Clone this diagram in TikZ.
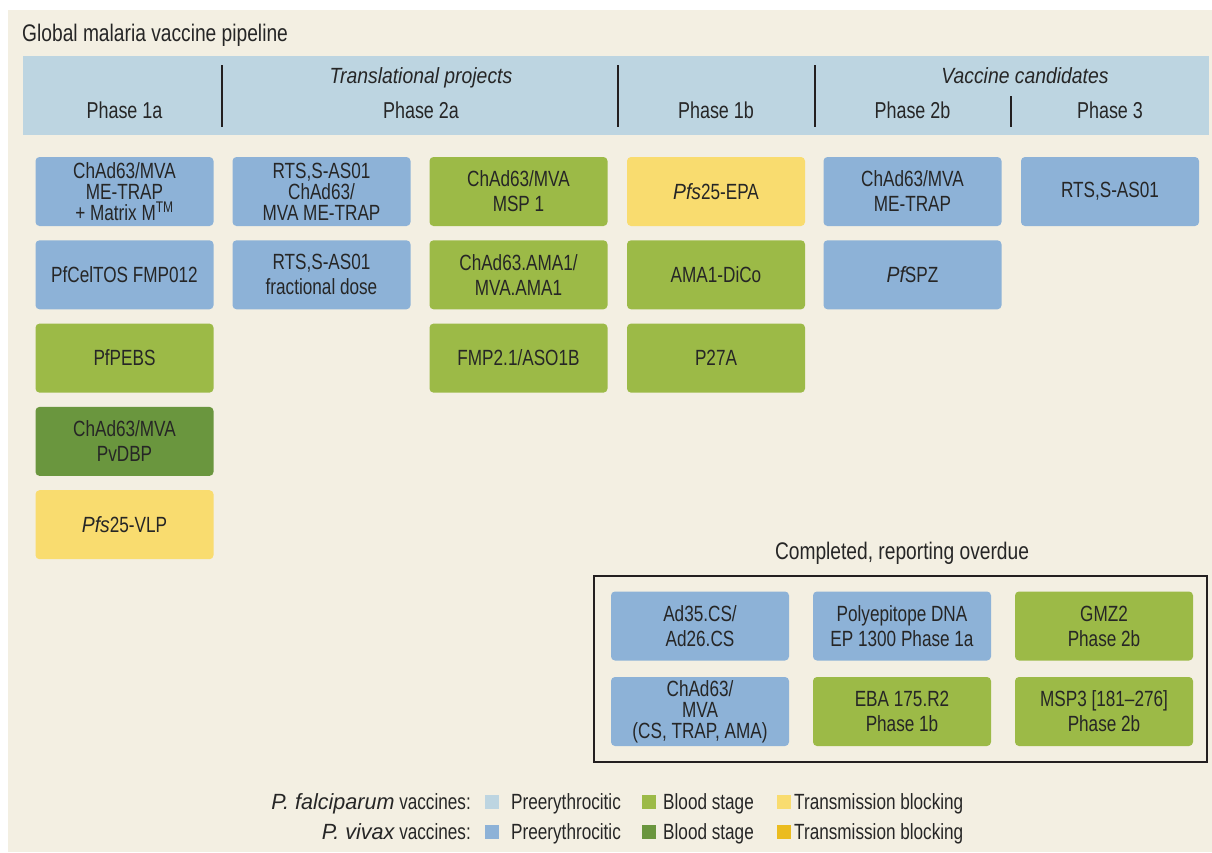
\documentclass[tikz,border=0pt]{standalone}
\usepackage{fontspec}
\setmainfont[FakeStretch=0.78]{Liberation Sans}
\newfontface\ttlf[FakeStretch=0.8]{Liberation Sans}
\newfontface\itf[FakeStretch=0.88]{Liberation Sans Italic}
\newfontface\itw[FakeStretch=0.98]{Liberation Sans Italic}
\definecolor{bg}{HTML}{F3EFE2}
\definecolor{band}{HTML}{BDD5E1}
\definecolor{pblue}{HTML}{8DB2D7}
\definecolor{pgreen}{HTML}{9CBA47}
\definecolor{dgreen}{HTML}{6A963E}
\definecolor{pyellow}{HTML}{F9DC6F}
\definecolor{dyellow}{HTML}{EBBC1F}
\definecolor{txt}{HTML}{262626}
\definecolor{rule}{HTML}{231F20}
\begin{document}
\begin{tikzpicture}[x=1pt,y=-1pt,
  bx/.style={rounded corners=4pt, minimum width=178pt, minimum height=69pt, inner sep=0pt,
    align=center, text=txt, font=\fontsize{22}{25}\selectfont},
  bxthree/.style={bx, font=\fontsize{22}{21}\selectfont},
  hdr/.style={anchor=base, text=txt, inner sep=0pt, font=\fontsize{23}{26}\selectfont},
  sep/.style={draw=rule, line width=1.2pt},
  sw/.style={minimum size=14pt, inner sep=0pt},
  leg/.style={anchor=base west, text=txt, inner sep=0pt, font=\fontsize{22}{25}\selectfont},
  legr/.style={leg, anchor=base east}]
\useasboundingbox (0,0) rectangle (1212,852);
\fill[bg] (8,10) rectangle (1212,852);

% title
\node[anchor=base west, text=txt, inner sep=0pt, font=\fontsize{24}{28}\ttlf] (title) at (22,41.5) {Global malaria vaccine pipeline};

% header band
\node[fill=band, minimum width=1186pt, minimum height=79pt, inner sep=0pt] (band) at (616,95.5) {};
\draw[sep] (222,65) -- (222,127);
\draw[sep] (618,65) -- (618,127);
\draw[sep] (815,65) -- (815,127);
\draw[sep] (1011,96) -- (1011,127);
\node[hdr] (trans) at (421,83) {\fontsize{22}{26}\itf Translational projects};
\node[hdr] (vcand) at (1025,83) {\fontsize{22}{26}\itf Vaccine candidates};
\node[hdr] (p1a) at (124.5,118) {Phase 1a};
\node[hdr] (p2a) at (421,118) {Phase 2a};
\node[hdr] (p1b) at (716,118) {Phase 1b};
\node[hdr] (p2b) at (912.5,118) {Phase 2b};
\node[hdr] (p3) at (1110,118) {Phase 3};

% column 1
\node[bxthree, fill=pblue] (c1r1) at (124.5,191.5) {ChAd63/MVA\\ME-TRAP\\+ Matrix M\textsuperscript{TM}};
\node[bx, fill=pblue] (c1r2) at (124.5,274.8) {PfCelTOS FMP012};
\node[bx, fill=pgreen] (c1r3) at (124.5,358.1) {PfPEBS};
\node[bx, fill=dgreen] (c1r4) at (124.5,441.4) {ChAd63/MVA\\PvDBP};
\node[bx, fill=pyellow] (c1r5) at (124.5,524.7) {{\itf Pfs}25-VLP};

% column 2
\node[bxthree, fill=pblue] (c2r1) at (321.5,191.5) {RTS,S-AS01\\ChAd63/\\MVA ME-TRAP};
\node[bx, fill=pblue] (c2r2) at (321.5,274.8) {RTS,S-AS01\\fractional dose};

% column 3
\node[bx, fill=pgreen] (c3r1) at (518.5,191.5) {ChAd63/MVA\\MSP 1};
\node[bx, fill=pgreen] (c3r2) at (518.5,274.8) {ChAd63.AMA1/\\MVA.AMA1};
\node[bx, fill=pgreen] (c3r3) at (518.5,358.1) {FMP2.1/ASO1B};

% column 4
\node[bx, fill=pyellow] (c4r1) at (716,191.5) {{\itf Pfs}25-EPA};
\node[bx, fill=pgreen] (c4r2) at (716,274.8) {AMA1-DiCo};
\node[bx, fill=pgreen] (c4r3) at (716,358.1) {P27A};

% column 5
\node[bx, fill=pblue] (c5r1) at (912.5,191.5) {ChAd63/MVA\\ME-TRAP};
\node[bx, fill=pblue] (c5r2) at (912.5,274.8) {{\itf Pf}SPZ};

% column 6
\node[bx, fill=pblue] (c6r1) at (1110,191.5) {RTS,S-AS01};

% completed, reporting overdue
\node[anchor=base, text=txt, inner sep=0pt, font=\fontsize{24}{28}\ttlf] (comp) at (902,559) {Completed, reporting overdue};
\node[draw=rule, line width=1.3pt, minimum width=613pt, minimum height=186pt, inner sep=0pt] (frame) at (900.5,669) {};
\node[bx, fill=pblue] (d1) at (700,626) {Ad35.CS/\\Ad26.CS};
\node[bx, fill=pblue] (d2) at (902,626) {Polyepitope DNA\\EP 1300 Phase 1a};
\node[bx, fill=pgreen] (d3) at (1104,626) {GMZ2\\Phase 2b};
\node[bxthree, fill=pblue] (d4) at (700,711.5) {ChAd63/\\MVA\\(CS, TRAP, AMA)};
\node[bx, fill=pgreen] (d5) at (902,711.5) {EBA 175.R2\\Phase 1b};
\node[bx, fill=pgreen] (d6) at (1104,711.5) {MSP3 [181--276]\\Phase 2b};

% legend
\node[legr] (lf) at (471,809.5) {{\itw P. falciparum} vaccines:};
\node[legr] (lv) at (471,839.5) {{\itw P. vivax} vaccines:};
\node[sw, fill=band] (s1) at (492,802) {};
\node[leg] (t1) at (511,809.5) {Preerythrocitic};
\node[sw, fill=pgreen] (s2) at (649,802) {};
\node[leg] (t2) at (663,809.5) {Blood stage};
\node[sw, fill=pyellow] (s3) at (783.5,802) {};
\node[leg] (t3) at (794,809.5) {Transmission blocking};
\node[sw, fill=pblue] (s4) at (492,832) {};
\node[leg] (t4) at (511,839.5) {Preerythrocitic};
\node[sw, fill=dgreen] (s5) at (649,832) {};
\node[leg] (t5) at (663,839.5) {Blood stage};
\node[sw, fill=dyellow] (s6) at (783.5,832) {};
\node[leg] (t6) at (794,839.5) {Transmission blocking};
\end{tikzpicture}
\end{document}
